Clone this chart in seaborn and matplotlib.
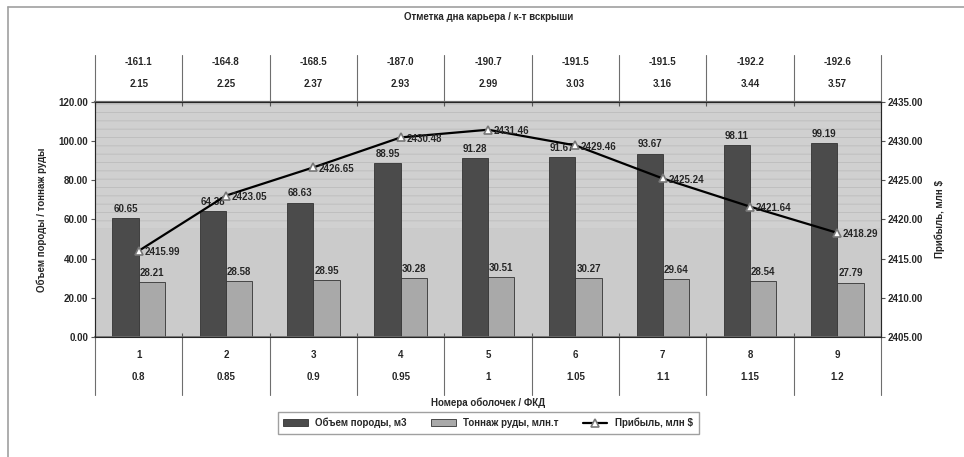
import numpy as np
import pandas as pd
from matplotlib import pyplot as plt
from matplotlib.lines import Line2D
import seaborn as sns

# values
shells = ['1', '2', '3', '4', '5', '6', '7', '8', '9']
fkd = ['0.8', '0.85', '0.9', '0.95', '1', '1.05', '1.1', '1.15', '1.2']
pit_bottom = ['-161.1', '-164.8', '-168.5', '-187.0', '-190.7', '-191.5', '-191.5', '-192.2', '-192.6']
strip_ratio = ['2.15', '2.25', '2.37', '2.93', '2.99', '3.03', '3.16', '3.44', '3.57']
rock_volume = [60.65, 64.38, 68.63, 88.95, 91.28, 91.67, 93.67, 98.11, 99.19]
ore_tonnage = [28.21, 28.58, 28.95, 30.28, 30.51, 30.27, 29.64, 28.54, 27.79]
profit = [2415.99, 2423.05, 2426.65, 2430.48, 2431.46, 2429.46, 2425.24, 2421.64, 2418.29]

name_rock = 'Объем породы, м3'
name_ore = 'Тоннаж руды, млн.т'
name_profit = 'Прибыль, млн $'

df = pd.DataFrame({'shell': shells * 2,
                   'series': [name_rock] * len(shells) + [name_ore] * len(shells),
                   'value': rock_volume + ore_tonnage})

sns.set_style('white')
plt.rcParams['font.family'] = ['Liberation Sans', 'DejaVu Sans']
plt.rcParams['font.size'] = 7
plt.rcParams['font.weight'] = 'bold'
plt.rcParams['hatch.linewidth'] = 0.6

fig = plt.figure(figsize=(9.64, 4.57), dpi=100)
ax = fig.add_axes([0.0985, 0.2626, 0.8155, 0.5142])
ax.set_facecolor('#cbcbcb')
ax.axhspan(55, 120, facecolor='#d0d0d0', hatch='--', edgecolor='#bcbcbc',
           linewidth=0, zorder=0)

sns.barplot(data=df, x='shell', y='value', hue='series', width=0.6,
            palette={name_rock: '#4b4b4b', name_ore: '#a9a9a9'},
            edgecolor='#333333', linewidth=0.6, saturation=1,
            legend=False, ax=ax, zorder=2)
for c in ax.containers:
    ax.bar_label(c, fmt='%.2f', padding=3, fontsize=7, fontweight='bold')

ax.set_ylim(0, 120)
ax.set_yticks(np.arange(0, 121, 20))
ax.set_yticklabels([f'{v:.2f}' for v in np.arange(0, 121, 20)])
ax.set_xlim(-0.5, 8.5)
ax.set_xticks(np.arange(-0.5, 9, 1))
ax.set_xticklabels([])
ax.tick_params(axis='x', direction='in', length=3, top=True, bottom=True, color='#555')
ax.tick_params(axis='y', direction='out', length=3, color='#555', pad=2)
ax.set_xlabel('')
ax.set_ylabel('Объем породы / тоннаж руды', fontsize=7, fontweight='bold', labelpad=8)
for s in ax.spines.values():
    s.set_color('#6e6e6e')
    s.set_linewidth(0.8)
ax.spines['top'].set_linewidth(1.6)
ax.spines['bottom'].set_linewidth(1.2)

# profit line on the right axis
ax2 = ax.twinx()
sns.pointplot(x=shells, y=profit, ax=ax2, color='black', markers='^',
              errorbar=None, linewidth=1.6, markersize=6,
              markerfacecolor='white', markeredgecolor='#777777')
ax2.set_xlim(-0.5, 8.5)
ax2.set_ylim(2405, 2435)
ax2.set_yticks(np.arange(2405, 2436, 5))
ax2.set_yticklabels([f'{v:.2f}' for v in np.arange(2405, 2436, 5)])
ax2.tick_params(axis='y', direction='out', length=3, color='#555', pad=2)
ax2.set_ylabel(name_profit, fontsize=7, fontweight='bold', labelpad=8)
for i, v in enumerate(profit):
    ax2.annotate(f'{v:.2f}', (i, v), xytext=(4, -1), textcoords='offset points',
                 ha='left', va='center', fontsize=7, fontweight='bold')

# table rows above and below the plot
tr = ax.get_xaxis_transform()
for i in range(len(shells)):
    ax.text(i, 1.17, pit_bottom[i], transform=tr, ha='center', va='center')
    ax.text(i, 1.077, strip_ratio[i], transform=tr, ha='center', va='center')
    ax.text(i, -0.077, shells[i], transform=tr, ha='center', va='center')
    ax.text(i, -0.17, fkd[i], transform=tr, ha='center', va='center')
for b in np.arange(-0.5, 9, 1):
    ax.plot([b, b], [1.0, 1.2], transform=tr, color='#6e6e6e', lw=0.8, clip_on=False)
    ax.plot([b, b], [-0.247, 0.0], transform=tr, color='#6e6e6e', lw=0.8, clip_on=False)

fig.text(0.5065, 1 - 17 / 457, 'Отметка дна карьера / к-т вскрыши',
         ha='center', va='center', fontsize=7)
fig.text(0.5065, 1 - 403 / 457, 'Номера оболочек / ФКД',
         ha='center', va='center', fontsize=7)

handles = [ax.containers[0], ax.containers[1], ax2.lines[0]]
fig.legend(handles, [name_rock, name_ore, name_profit], ncol=3,
           loc='center', bbox_to_anchor=(0.5065, 1 - 423 / 457),
           frameon=True, fancybox=False, edgecolor='#888888',
           fontsize=7, handlelength=2.5, columnspacing=2.5,
           borderpad=0.6)

# outer chart border
fig.add_artist(Line2D([8 / 964, 8 / 964], [0, 1 - 7 / 457], color='#a0a0a0', lw=1.2))
fig.add_artist(Line2D([8 / 964, 1], [1 - 7 / 457, 1 - 7 / 457], color='#a0a0a0', lw=1.2))

fig.savefig('out.png', dpi=100)
